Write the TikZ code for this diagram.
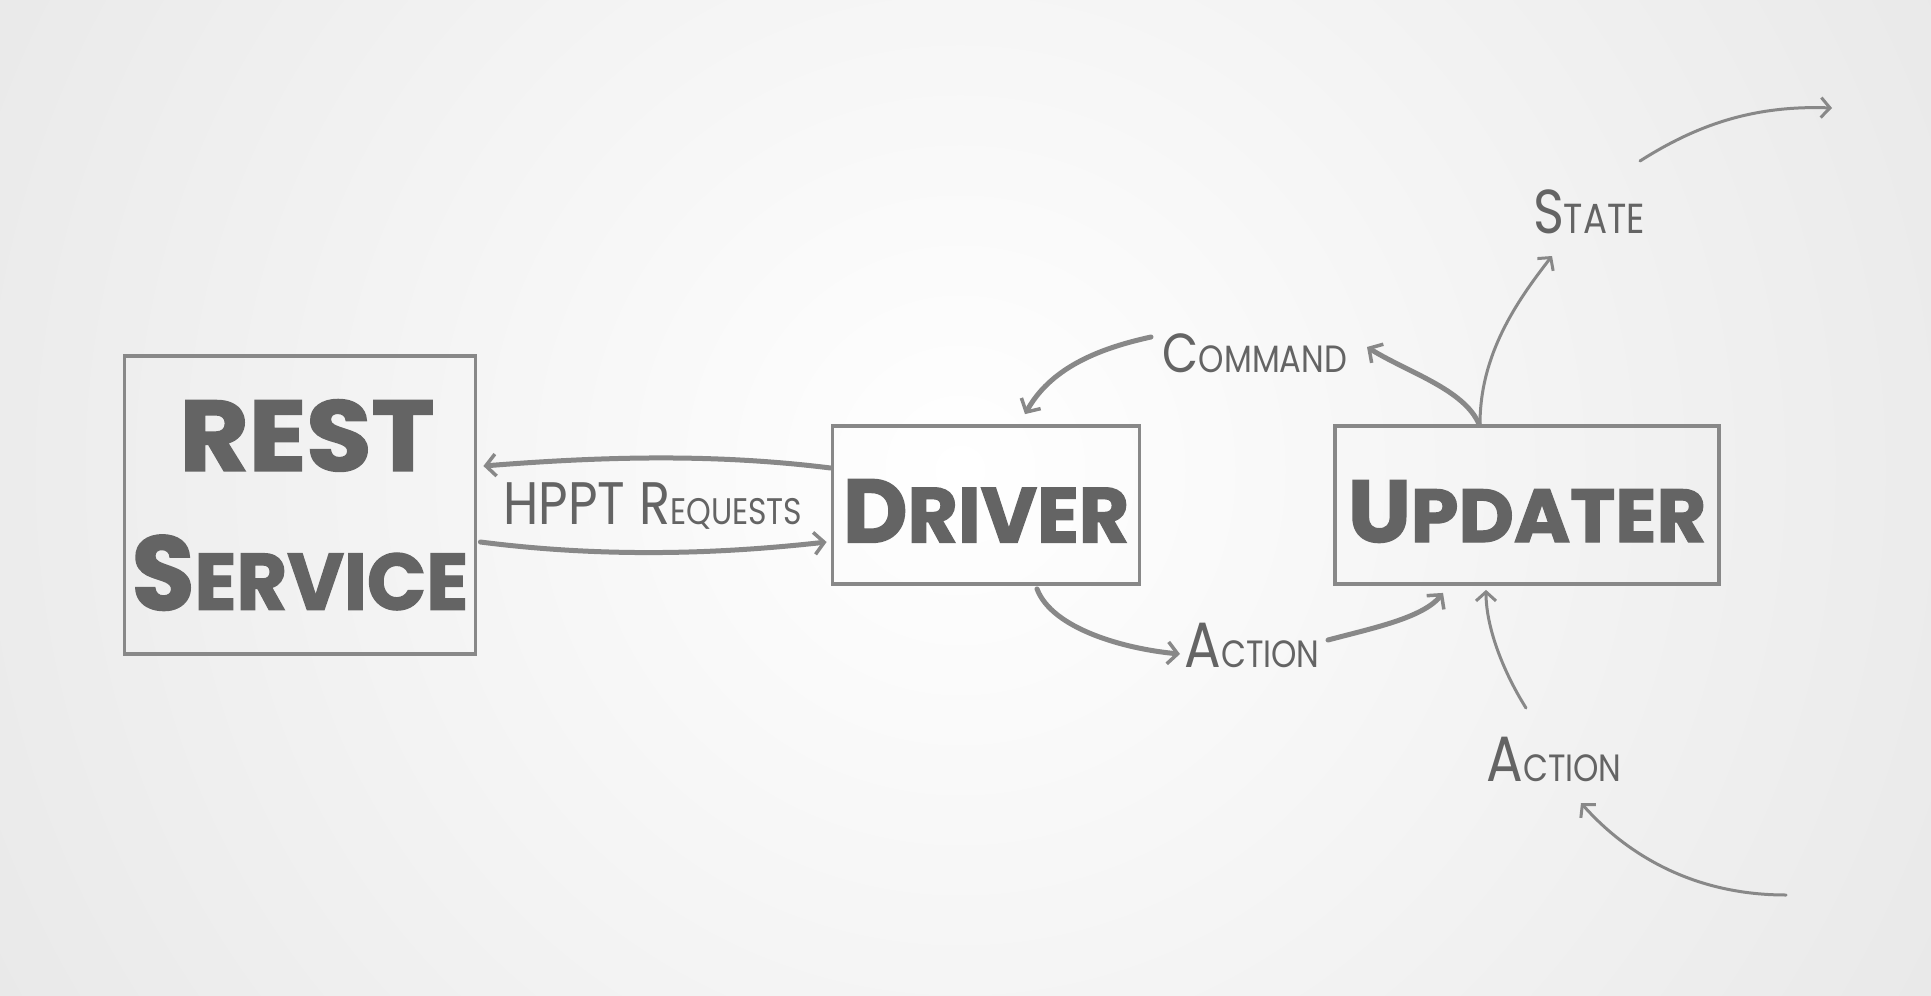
\documentclass[tikz,border=0pt]{standalone}
\usepackage{fontspec}
\usetikzlibrary{arrows.meta,calc}
\newfontfamily\boxfont{Poppins}[FakeStretch=0.9,FakeBold=1.6]
\newfontfamily\labfont{Poppins}[FakeStretch=0.85]
\definecolor{txt}{HTML}{646464}
\definecolor{ln}{HTML}{888888}
\definecolor{bgout}{HTML}{D4D4D4}
\newcommand\twosz[4]{{\fontsize{#3}{#3}\selectfont #1}{\fontsize{#4}{#4}\selectfont #2}}
\tikzset{
  box/.style={draw=ln, line width=3.8pt, rectangle, inner sep=0pt, text=txt, align=center,
    font={\boxfont\bfseries\fontsize{80}{139}\selectfont}},
  lab/.style={text=txt, font=\labfont, inner sep=2pt},
  conn/.style={draw=ln, line width=5pt, line cap=round,
    -{Straight Barb[length=10pt,width=22pt,line width=3.5pt]}},
  thinconn/.style={draw=ln, line width=3pt, line cap=round,
    -{Straight Barb[length=9pt,width=20pt,line width=3pt]}}
}
\begin{document}
\begin{tikzpicture}[x=1pt,y=-1pt]
\useasboundingbox (0,0) rectangle (1931,996);
\begin{scope}
  \clip (0,0) rectangle (1931,996);
  \fill[bgout] (0,0) rectangle (1931,996);
  \shade[inner color=white, outer color=bgout] (960,470) circle (2150);
\end{scope}

% boxes
\node[box, minimum width=351pt, minimum height=298pt] (rest) at (300,505)
  {\hspace*{14pt}\scalebox{1.18}[1]{\twosz{REST}{}{100}{100}}\\\scalebox{1.08}[1]{\twosz{S}{ERVICE}{105}{80}}};
\node[box, minimum width=307pt, minimum height=158pt] (driver) at (986,505)
  {\raisebox{-6pt}[63pt][0pt]{\scalebox{1.1}[1]{\twosz{D}{RIVER}{90}{78}}}};
\node[box, minimum width=384pt, minimum height=158pt] (updater) at (1527,505)
  {\raisebox{-6pt}[62pt][0pt]{\scalebox{1.13}[1]{\twosz{U}{PDATER}{88}{75}}}};

% labels
\node[lab] (http) at (653,506) {\twosz{HPPT R}{EQUESTS}{60}{37}};
\node[lab] (cmd) at (1255,353) {\twosz{C}{OMMAND}{55}{38}};
\node[lab] (act1) at (1252,645) {\twosz{A}{CTION}{64}{38}};
\node[lab] (state) at (1589,212) {\twosz{S}{TATE}{62}{42}};
\node[lab] (act2) at (1554,759) {\twosz{A}{CTION}{64}{38}};

\coordinate (sout) at (1640,161);
\coordinate (sfar) at (1832,108);
\coordinate (ain) at (1786,895);

% HTTP
\draw[conn] ($(driver.west)+(0,-37)$) .. controls ($(driver.west)+(-120,-52)$) and ($(rest.east)+(120,-48)$) .. ($(rest.east)+(6,-39)$);
\draw[conn] ($(rest.east)+(3,37)$) .. controls ($(rest.east)+(120,52)$) and ($(driver.west)+(-120,50)$) .. ($(driver.west)+(-4,37)$);

% command
\draw[conn] ($(updater.north)+(-48,0)$) .. controls +(-15,-35) and +(40,25) .. ($(cmd.center)+(112,-6)$);
\draw[conn] ($(cmd.center)+(-104,-16)$) .. controls +(-55,12) and +(25,-45) .. ($(driver.north)+(39,-10)$);

% action (middle)
\draw[conn] ($(driver.south)+(51,3)$) .. controls +(15,40) and +(-55,-5) .. ($(act1.center)+(-72,9)$);
\draw[conn] ($(act1.center)+(76,-5)$) .. controls +(45,-12) and +(-20,25) .. ($(updater.south)+(-84,7)$);

% state
\draw[thinconn] ($(updater.north)+(-47,0)$) .. controls +(0,-70) and +(-35,45) .. ($(state.center)+(-37,44)$);
\draw[thinconn] (sout) .. controls +(55,-35) and +(-80,-3) .. (sfar);

% action (right)
\draw[thinconn] ($(act2.center)+(-28,-51)$) .. controls +(-25,-40) and +(0,35) .. ($(updater.south)+(-41,4)$);
\draw[thinconn] (ain) .. controls +(-100,0) and +(40,45) .. ($(act2.center)+(27,44)$);
\end{tikzpicture}
\end{document}
